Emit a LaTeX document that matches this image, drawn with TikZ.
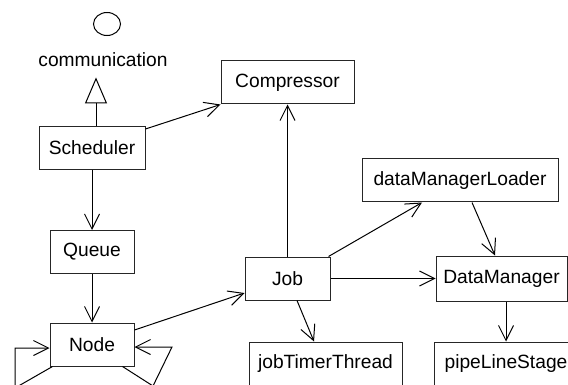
\documentclass[tikz,border=0pt]{standalone}
\usepackage{fontspec}
\setmainfont{Liberation Sans}
\usetikzlibrary{arrows.meta,shapes.geometric}
\tikzset{
  cls/.style={draw=black!85,line width=0.5pt,minimum height=21.5pt,inner sep=0pt,
    font=\fontsize{9.6}{11}\selectfont},
  nav/.style={-{Straight Barb[length=7.5pt,width=7.5pt]},line width=0.5pt},
  realize/.style={-{Triangle[open,length=13pt,width=11pt]},line width=0.5pt},
}
\begin{document}
\begin{tikzpicture}[x=0.5pt,y=-0.5pt]
\useasboundingbox (0,0) rectangle (568,385);
% provided interface
\node[draw,ellipse,line width=0.5pt,minimum width=13.5pt,minimum height=11.5pt,inner sep=0pt] (iface) at (107,24) {};
\node[inner sep=0pt,font=\fontsize{9.6}{11}\selectfont] (comm) at (103,60) {communication};
% classes
\node[cls,minimum width=53pt] (sched) at (92,148) {Scheduler};
\node[cls,minimum width=66.5pt] (compr) at (287.5,82.5) {Compressor};
\node[cls,minimum width=42pt] (queue) at (92,252) {Queue};
\node[cls,minimum width=42pt] (nodebox) at (92,344.5) {Node};
\node[cls,minimum width=42.5pt] (job) at (287.5,278.5) {Job};
\node[cls,minimum width=98pt] (dml) at (460,180.5) {dataManagerLoader};
\node[cls,minimum width=65.5pt,minimum height=22.5pt] (dm) at (501.5,278.5) {DataManager};
\node[cls,minimum width=76.5pt,minimum height=22pt] (jtt) at (325.5,364) {jobTimerThread};
\node[cls,minimum width=72pt,minimum height=22pt] (pls) at (506,364) {pipeLineStage};
% associations
\draw[realize,shorten >=5pt] ([xshift=2pt]sched.north) -- ([xshift=2pt]sched.north |- comm.south);
\draw[nav] ([yshift=-1.5pt]sched.north east) -- (compr.south west);
\draw[nav] (sched) -- (queue);
\draw[nav] (queue) -- (nodebox);
\draw[nav] ([yshift=7.25pt]nodebox.east) -- ([yshift=-7.25pt]job.west);
\draw[nav] (job) -- (compr);
\draw[nav] ([xshift=-1pt]job.north east) -- ([xshift=-19pt]dml.south);
\draw[nav] ([xshift=6pt]dml.south) -- ([xshift=-3.25pt]dm.north);
\draw[nav] (job) -- (dm);
\draw[nav] ([xshift=4.75pt]job.south) -- ([xshift=-5.75pt]jtt.north);
\draw[nav] (pls.north |- dm.south) -- (pls.north);
% self loops on Node
\coordinate (lcorner) at (15,388);
\coordinate (ltop) at (15,348);
\draw[nav] ([xshift=1.5pt]nodebox.south west) -- (lcorner) -- (ltop) -- (ltop -| nodebox.west);
\coordinate (rcorner) at (153,386);
\coordinate (rtop) at (172,347);
\draw[nav] ([xshift=-6pt]nodebox.south east) -- (rcorner) -- (rtop) -- (rtop -| nodebox.east);
\end{tikzpicture}
\end{document}
